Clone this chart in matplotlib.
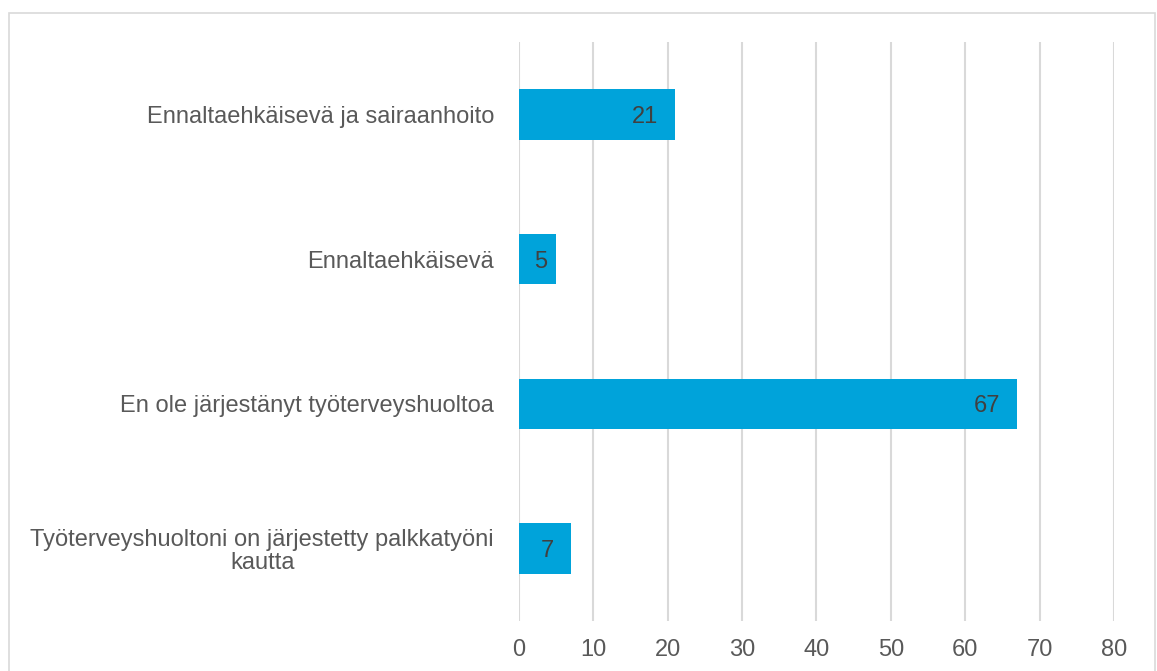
import matplotlib.pyplot as plt
from matplotlib.patches import Rectangle

plt.rcParams['font.family'] = ['Liberation Sans', 'DejaVu Sans']

# Data (top to bottom as shown)
categories = [
    "Ennaltaehkäisevä ja sairaanhoito",
    "Ennaltaehkäisevä",
    "En ole järjestänyt työterveyshuoltoa",
    "Työterveyshuoltoni on järjestetty palkkatyöni\nkautta",
]
values = [21, 5, 67, 7]
xticks = [0, 10, 20, 30, 40, 50, 60, 70, 80]

bar_color = '#00A3DA'
label_color = '#595959'
value_color = '#404040'

fig = plt.figure(figsize=(11.57, 6.71), dpi=100)
ax = fig.add_axes([0.4486, 0.0745, 0.5142, 0.8629])

ypos = list(range(len(categories)))[::-1]
ax.barh(ypos, values, height=0.35, color=bar_color, zorder=3)

ax.set_xlim(0, 80)
ax.set_ylim(-0.5, len(categories) - 0.5)

# inside-end labels; centred when the bar is too narrow (like Excel)
for y, v in zip(ypos, values):
    bar_px = ax.transData.transform((v, 0))[0] - ax.transData.transform((0, 0))[0]
    text_px = len(str(v)) * 0.556 * 17 * 100 / 72
    if bar_px >= text_px + 34:
        ax.annotate(str(v), xy=(v, y), xytext=(-12, 0), textcoords='offset points',
                    ha='right', va='center_baseline', fontsize=17,
                    color=value_color, zorder=4)
    else:
        ax.annotate(str(v), xy=(v / 2, y), xytext=(2, 0), textcoords='offset points',
                    ha='center', va='center_baseline', fontsize=17,
                    color=value_color, zorder=4)

ax.set_xticks(xticks)
ax.set_xticklabels([str(t) for t in xticks])
ax.set_yticks(ypos)
ax.set_yticklabels(categories, multialignment='center', linespacing=1.05)

ax.grid(axis='x', color='#D9D9D9', linewidth=1.5, zorder=0)
ax.tick_params(axis='x', length=0, pad=13, labelsize=17, labelcolor=label_color)
ax.tick_params(axis='y', length=0, pad=18, labelsize=17, labelcolor=label_color)
for s in ax.spines.values():
    s.set_visible(False)

# light frame around the chart area
fig.patches.append(Rectangle((9 / 1157, -0.05), 1146 / 1157, 1 - 13 / 671 + 0.05,
                             transform=fig.transFigure, fill=False,
                             edgecolor='#D9D9D9', linewidth=1.2))

fig.savefig('out.png', dpi=100)
